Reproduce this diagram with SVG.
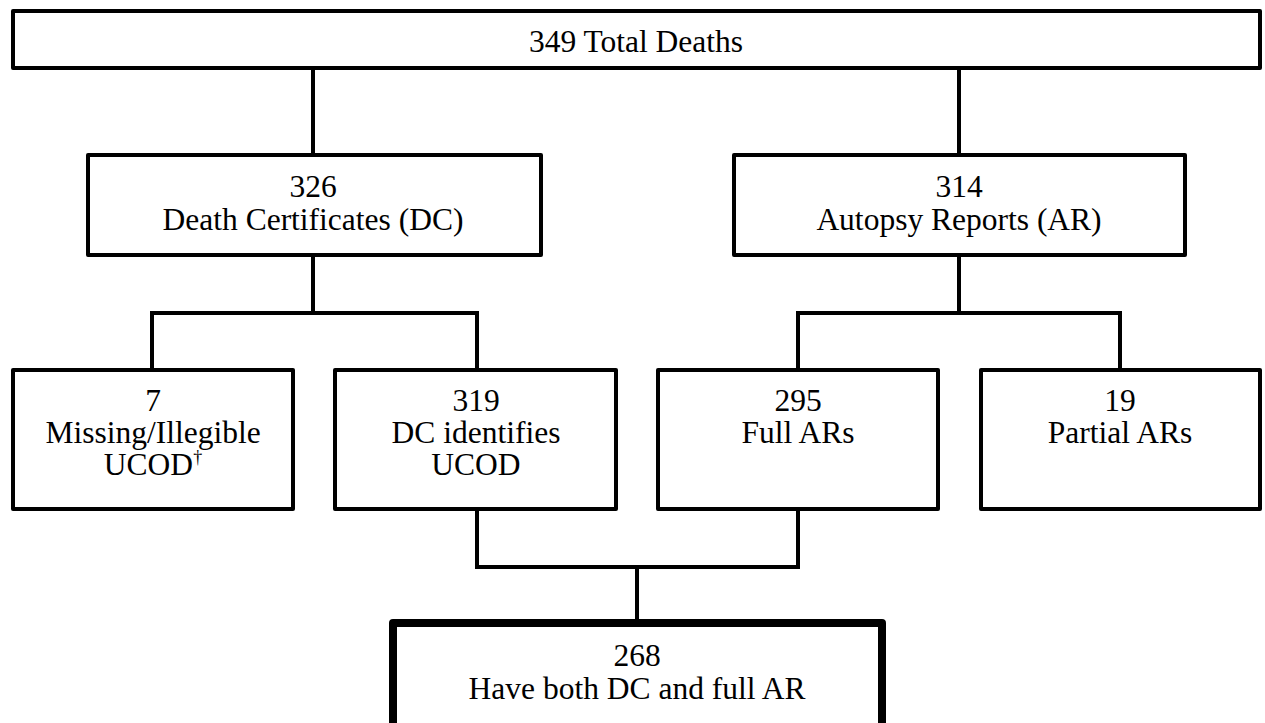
<svg xmlns="http://www.w3.org/2000/svg" width="1265" height="723" viewBox="0 0 1265 723">
<style>
.box{fill:#fff;stroke:#000;stroke-width:4;stroke-linejoin:round}
.bold{fill:#fff;stroke:#000;stroke-width:8;stroke-linejoin:round}
.conn{fill:none;stroke:#000;stroke-width:4;stroke-linejoin:miter}
.t{font-family:'Liberation Serif','Times New Roman',Tinos,'DejaVu Serif',serif;font-size:31.5px;fill:#000;text-anchor:middle}
.sup{font-size:18px}
</style>
<rect width="1265" height="723" fill="#fff"/>
<g id="connectors">
<path class="conn" d="M313 68V155"/>
<path class="conn" d="M959 68V155"/>
<path class="conn" d="M313 255V313M152 370V313H477V370"/>
<path class="conn" d="M959 255V313M798 370V313H1120V370"/>
<path class="conn" d="M477 509V567H798V509M637 567V623"/>
</g>
<g id="total">
<rect class="box" x="13" y="11" width="1247" height="57"/>
<text class="t" font-family="Liberation Serif, serif" x="636" y="52">349 Total Deaths</text>
</g>
<g id="dc">
<rect class="box" x="88" y="155" width="453" height="100"/>
<text class="t" font-family="Liberation Serif, serif" x="313" y="197">326</text>
<text class="t" font-family="Liberation Serif, serif" x="313" y="230">Death Certificates (DC)</text>
</g>
<g id="ar">
<rect class="box" x="734" y="155" width="451" height="100"/>
<text class="t" font-family="Liberation Serif, serif" x="959" y="197">314</text>
<text class="t" font-family="Liberation Serif, serif" x="959" y="230">Autopsy Reports (AR)</text>
</g>
<g id="missing">
<rect class="box" x="13" y="370" width="280" height="139"/>
<text class="t" font-family="Liberation Serif, serif" x="153" y="411">7</text>
<text class="t" font-family="Liberation Serif, serif" x="153" y="443">Missing/Illegible</text>
<text class="t" font-family="Liberation Serif, serif" x="153" y="475">UCOD<tspan class="sup" dy="-12">†</tspan></text>
</g>
<g id="identifies">
<rect class="box" x="335" y="370" width="281" height="139"/>
<text class="t" font-family="Liberation Serif, serif" x="476" y="411">319</text>
<text class="t" font-family="Liberation Serif, serif" x="476" y="443">DC identifies</text>
<text class="t" font-family="Liberation Serif, serif" x="476" y="475">UCOD</text>
</g>
<g id="full">
<rect class="box" x="658" y="370" width="280" height="139"/>
<text class="t" font-family="Liberation Serif, serif" x="798" y="411">295</text>
<text class="t" font-family="Liberation Serif, serif" x="798" y="443">Full ARs</text>
</g>
<g id="partial">
<rect class="box" x="981" y="370" width="279" height="139"/>
<text class="t" font-family="Liberation Serif, serif" x="1120" y="411">19</text>
<text class="t" font-family="Liberation Serif, serif" x="1120" y="443">Partial ARs</text>
</g>
<g id="both">
<rect class="bold" x="393" y="623" width="489" height="130"/>
<text class="t" font-family="Liberation Serif, serif" x="637" y="666">268</text>
<text class="t" font-family="Liberation Serif, serif" x="637" y="699">Have both DC and full AR</text>
</g>
</svg>
